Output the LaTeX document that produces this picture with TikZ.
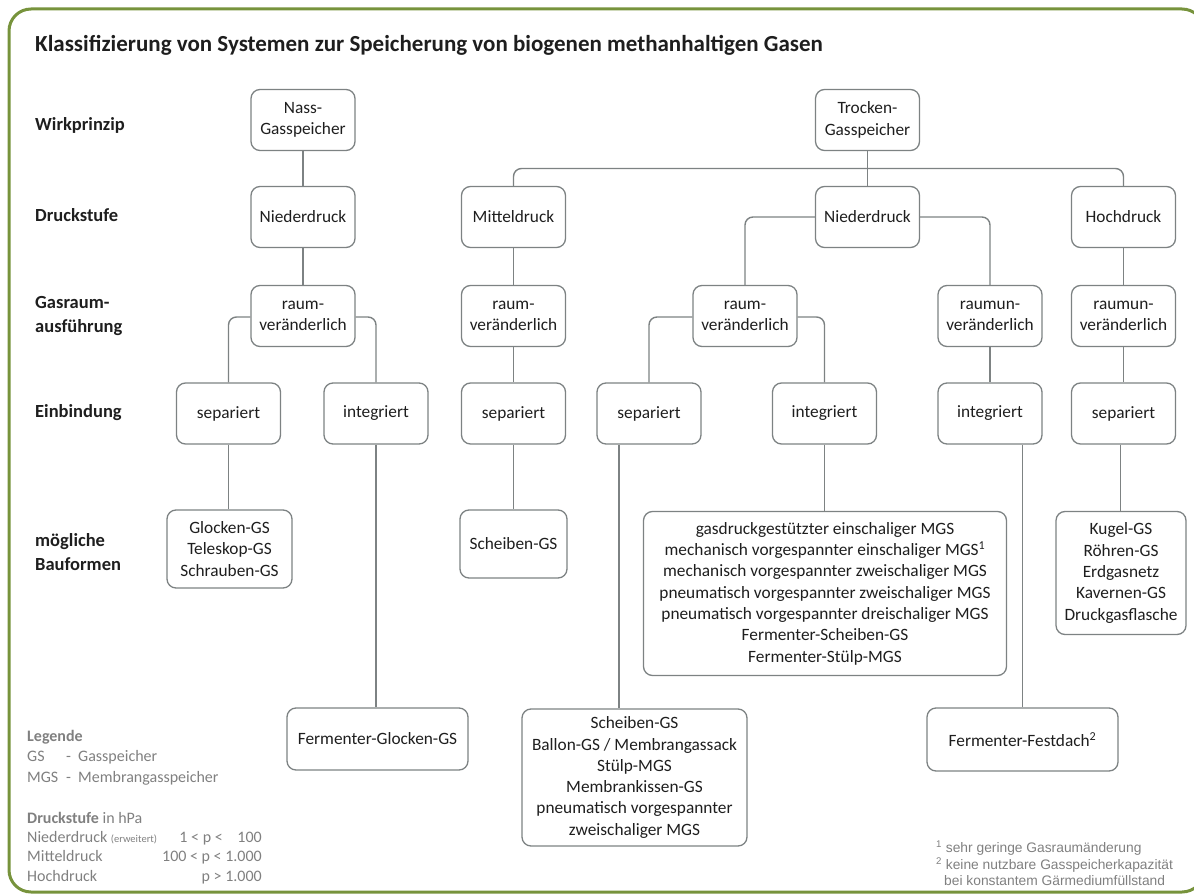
\documentclass[tikz,border=0pt]{standalone}
\usepackage{fontspec}
\setmainfont{Carlito}
\newfontfamily\arialfont{Liberation Sans}
\usetikzlibrary{calc}
\definecolor{boxgray}{HTML}{7D8283}
\definecolor{linegray}{HTML}{7D8283}
\definecolor{framegreen}{HTML}{77933C}
\definecolor{leggray}{HTML}{808080}
\definecolor{txt}{HTML}{1E1E1E}
\begin{document}
\begin{tikzpicture}[x=1pt,y=-1pt,
  box/.style={draw=boxgray, line width=1.3pt, rounded corners=9pt, align=center,
    font=\fontsize{17.3}{21.3}\selectfont, inner sep=2pt, text=txt},
  small/.style={box, minimum width=104pt, minimum height=61pt},
  conn/.style={draw=linegray, line width=1.4pt, rounded corners=8pt},
  rowlab/.style={font=\bfseries\fontsize{18.5}{24}\selectfont, anchor=west, align=left, text=txt, inner sep=0pt},
  leg/.style={font=\fontsize{16}{19}\selectfont, text=leggray, inner sep=0pt, text height=11pt, text depth=3.5pt},
  foot/.style={font=\arialfont\fontsize{13.8}{16.5}\selectfont, text=leggray, inner sep=0pt, anchor=west},
]
\useasboundingbox (0,0) rectangle (1194,896);
\clip (0,0) rectangle (1194,896);
\draw[framegreen, line width=3pt, rounded corners=22pt] (9,9) rectangle (1204,892);

% title and row labels
\node[rowlab, font=\bfseries\fontsize{23}{26}\selectfont] (title) at (35,45) {Klassifizierung von Systemen zur Speicherung von biogenen methanhaltigen Gasen};
\node[rowlab] (lwirk) at (35,125) {Wirkprinzip};
\node[rowlab] (ldruck) at (35,215) {Druckstufe};
\node[rowlab] (lgas) at (35,316) {Gasraum-\\ausführung};
\node[rowlab] (lein) at (35,413) {Einbindung};
\node[rowlab] (lbau) at (35,552) {mögliche\\Bauformen};

% nodes
\node[small] (nass) at (303,120) {Nass-\\Gasspeicher};
\node[small] (trocken) at (867.5,120) {Trocken-\\Gasspeicher};
\node[small] (nd1) at (303,217) {Niederdruck};
\node[small] (md) at (513.5,217) {Mitteldruck};
\node[small] (nd2) at (867.5,217) {Niederdruck};
\node[small] (hd) at (1123.5,217) {Hochdruck};
\node[small] (rv1) at (303,316) {raum-\\veränderlich};
\node[small] (rv2) at (513.5,316) {raum-\\veränderlich};
\node[small] (rv3) at (745,316) {raum-\\veränderlich};
\node[small] (ruv1) at (990,316) {raumun-\\veränderlich};
\node[small] (ruv2) at (1123.5,316) {raumun-\\veränderlich};
\node[small] (sep1) at (228.5,413.5) {separiert};
\node[small] (int1) at (376,413.5) {integriert};
\node[small] (sep2) at (513.5,413.5) {separiert};
\node[small] (sep3) at (649,413.5) {separiert};
\node[small] (int2) at (824.5,413.5) {integriert};
\node[small] (int3) at (990,413.5) {integriert};
\node[small] (sep4) at (1123.5,413.5) {separiert};

\node[box, minimum width=125pt, minimum height=78pt] (bf1) at (229.5,549) {Glocken-GS\\Teleskop-GS\\Schrauben-GS};
\node[box, minimum width=107pt, minimum height=68pt] (bf2) at (513.5,544) {Scheiben-GS};
\node[box, minimum width=363pt, minimum height=164pt] (bf3) at (825,593.5) {gasdruckgestützter einschaliger MGS\\mechanisch vorgespannter einschaliger MGS\textsuperscript{1}\\mechanisch vorgespannter zweischaliger MGS\\pneumatisch vorgespannter zweischaliger MGS\\pneumatisch vorgespannter dreischaliger MGS\\Fermenter-Scheiben-GS\\Fermenter-Stülp-MGS};
\node[box, minimum width=130pt, minimum height=123pt] (bf4) at (1121,573) {Kugel-GS\\Röhren-GS\\Erdgasnetz\\Kavernen-GS\\Druckgasflasche};
\node[box, minimum width=181pt, minimum height=62pt] (ff1) at (377.5,739) {Fermenter-Glocken-GS};
\node[box, minimum width=225pt, minimum height=137pt] (ff2) at (634.5,777.5) {Scheiben-GS\\Ballon-GS / Membrangassack\\Stülp-MGS\\Membrankissen-GS\\pneumatisch vorgespannter\\zweischaliger MGS};
\node[box, minimum width=191pt, minimum height=63pt] (ff3) at (1022.5,739.5) {Fermenter-Festdach\textsuperscript{2}};

% connectors
\coordinate (tj) at ($(trocken.south)!0.5!(nd2.north)$);
\draw[conn] (nass) -- (nd1);
\draw[conn] (nd1) -- (rv1);
\draw[conn] (trocken) -- (nd2);
\draw[conn] (md.north) |- (tj) -| (hd.north);
\draw[conn] (md) -- (rv2);
\draw[conn] (rv2) -- (sep2);
\draw[conn] (sep2) -- (bf2);
\draw[conn] (nd2.west) -| (rv3.north);
\draw[conn] (nd2.east) -| (ruv1.north);
\draw[conn] ([yshift=-1pt]rv1.west) -| (sep1.north);
\draw[conn] ([yshift=-1pt]rv1.east) -| (int1.north);
\draw[conn] ([yshift=-1pt]rv3.west) -| (sep3.north);
\draw[conn] ([yshift=-1pt]rv3.east) -| (int2.north);
\draw[conn] (ruv1) -- (int3);
\draw[conn] (hd) -- (ruv2);
\draw[conn] (ruv2) -- (sep4);
\draw[conn] ([xshift=-3pt]sep4.south) -- ([xshift=-3pt]sep4.south |- bf4.north);
\draw[conn] (sep1.south) -- (sep1.south |- bf1.north);
\draw[conn] (int1.south) -- (int1.south |- ff1.north);
\draw[conn] ([xshift=-30pt]sep3.south) -- ([xshift=-30pt]sep3.south |- ff2.north);
\draw[conn] (int2.south) -- (int2.south |- bf3.north);
\draw[conn] (ff3.north) -- (ff3.north |- int3.south);

% legend
\node[leg, anchor=west, font=\bfseries\fontsize{16}{19}\selectfont] (legt) at (27,738) {Legende};
\node[leg, anchor=west] (lgs) at (27,758) {GS};
\node[leg, anchor=west] (lgsa) at (66,758) {-};
\node[leg, anchor=west] (lgsd) at (78,758) {Gasspeicher};
\node[leg, anchor=west] (lmgs) at (27,779) {MGS};
\node[leg, anchor=west] (lmgsa) at (66,779) {-};
\node[leg, anchor=west] (lmgsd) at (78,779) {Membrangasspeicher};
\node[leg, anchor=west] (ldr) at (27,820) {\textbf{Druckstufe} in hPa};
\node[leg, anchor=west] (lnd) at (27,839) {Niederdruck {\fontsize{10.5}{12}\selectfont(erweitert)}};
\node[leg, anchor=east] (lnda) at (223,839) {1 < p <};
\node[leg, anchor=east] (lndb) at (262,839) {100};
\node[leg, anchor=west] (lmd) at (27,858) {Mitteldruck};
\node[leg, anchor=east] (lmda) at (262,858) {100 < p < 1.000};
\node[leg, anchor=west] (lhd) at (27,878) {Hochdruck};
\node[leg, anchor=east] (lhda) at (262,878) {p > 1.000};

% footnotes
\node[foot] (f1) at (936,848) {\textsuperscript{1} sehr geringe Gasraumänderung};
\node[foot] (f2) at (936,865) {\textsuperscript{2} keine nutzbare Gasspeicherkapazität};
\node[foot] (f3) at (944,881) {bei konstantem Gärmediumfüllstand};
\end{tikzpicture}
\end{document}
